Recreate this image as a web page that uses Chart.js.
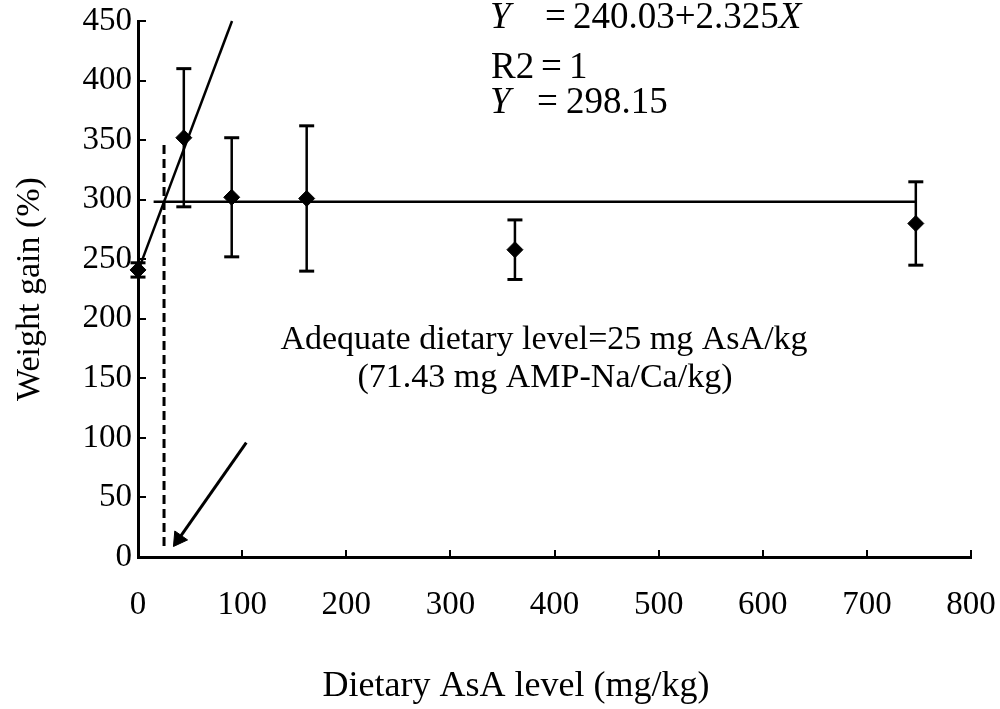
<!DOCTYPE html>
<html>
<head>
<meta charset="utf-8">
<script src="https://cdn.jsdelivr.net/npm/chart.js@4.4.1/dist/chart.umd.min.js"></script>
<style>
  html, body { margin: 0; padding: 0; background: #fff; }
  #wrap { width: 1000px; height: 709px; }
</style>
</head>
<body>
<div id="wrap"><canvas id="c" width="1000" height="709"></canvas></div>
<script>
// Dietary ascorbic acid level (mg/kg) and weight gain (%) with SD
const asaLevels    = [0, 44, 90, 162, 362, 747];
const weightGain   = [241, 352, 302, 301, 258, 280];
const weightGainSD = [6, 58, 50, 61, 25, 35];

// Axis ticks
const xTickValues = [0, 100, 200, 300, 400, 500, 600, 700, 800];
const yTickValues = [0, 50, 100, 150, 200, 250, 300, 350, 400, 450];

// Broken-line regression
const riseIntercept = 240.03;
const riseSlope = 2.325;
const plateauValue = 298.15;
const riseX = [0, 90.3];
const plateauX = [15, 747];

// Adequate level marker and pointer arrow
const adequateLevel = 25;
const dropLineY = [346, 8];
const arrowX = [104, 39];
const arrowY = [96, 15];

const serif = '"Liberation Serif", "Times New Roman", Times, serif';

const errorBarPoints = [];
asaLevels.forEach((x, i) => {
  errorBarPoints.push({ x, y: weightGain[i] - weightGainSD[i] });
  errorBarPoints.push({ x, y: weightGain[i] + weightGainSD[i] });
  errorBarPoints.push({ x, y: null });
});

const meanPoints = asaLevels.map((x, i) => ({ x, y: weightGain[i] }));
const risePoints = riseX.map(x => ({ x, y: riseIntercept + riseSlope * x }));
const plateauPoints = plateauX.map(x => ({ x, y: plateauValue }));
const dropPoints = dropLineY.map(y => ({ x: adequateLevel, y }));
const arrowPoints = arrowX.map((x, i) => ({ x, y: arrowY[i] }));

// Equations, annotation and x-axis title
const textNotes = {
  id: 'textNotes',
  afterDraw(chart) {
    const ctx = chart.ctx;
    ctx.save();
    ctx.fillStyle = '#000';
    ctx.textBaseline = 'middle';
    ctx.textAlign = 'left';
    const f = (size, italic) => (italic ? 'italic ' : '') + size + 'px ' + serif;

    // Y = 240.03+2.325X
    ctx.font = f(37, true);
    ctx.fillText('Y', 490, 18);
    ctx.font = f(37, false);
    ctx.fillText('=', 545, 18);
    const eq = riseIntercept.toFixed(2) + '+' + riseSlope.toFixed(3);
    ctx.fillText(eq, 573, 18);
    const w = ctx.measureText(eq).width;
    ctx.font = f(37, true);
    ctx.fillText('X', 573 + w, 18);

    // R2 = 1
    ctx.font = f(37, false);
    ctx.fillText('R2', 491, 68);
    ctx.fillText('=', 541, 68);
    ctx.fillText('1', 569, 68);

    // Y = 298.15
    ctx.font = f(37, true);
    ctx.fillText('Y', 490, 103);
    ctx.font = f(37, false);
    ctx.fillText('=', 537, 103);
    ctx.fillText(plateauValue.toFixed(2), 566, 103);

    // Annotation
    ctx.textAlign = 'center';
    ctx.font = f(34, false);
    ctx.fillText('Adequate dietary level=' + adequateLevel + ' mg AsA/kg', 544, 340);
    ctx.fillText('(71.43 mg AMP-Na/Ca/kg)', 545, 378);

    // X-axis title
    ctx.font = f(36, false);
    ctx.fillText('Dietary AsA level (mg/kg)', 516, 687);
    ctx.restore();
  }
};

new Chart(document.getElementById('c'), {
  type: 'scatter',
  data: {
    datasets: [
      {
        type: 'line',
        data: errorBarPoints,
        showLine: true,
        spanGaps: false,
        borderColor: '#000',
        borderWidth: 2.5,
        pointStyle: 'line',
        pointRadius: 7.5,
        pointBorderWidth: 3,
        pointBorderColor: '#000',
        clip: false
      },
      {
        type: 'line',
        data: risePoints,
        borderColor: '#000',
        borderWidth: 2.5,
        pointRadius: 0,
        clip: false
      },
      {
        type: 'line',
        data: plateauPoints,
        borderColor: '#000',
        borderWidth: 2.5,
        pointRadius: 0,
        clip: false
      },
      {
        type: 'line',
        data: dropPoints,
        borderColor: '#000',
        borderWidth: 3,
        borderDash: [9, 5],
        pointRadius: 0,
        clip: false
      },
      {
        type: 'line',
        data: arrowPoints,
        borderColor: '#000',
        borderWidth: 3,
        pointStyle: 'triangle',
        pointRadius: [0, 9],
        pointRotation: 215,
        pointBackgroundColor: '#000',
        pointBorderColor: '#000',
        pointBorderWidth: 1,
        clip: false
      },
      {
        data: meanPoints,
        pointStyle: 'rectRot',
        pointRadius: 8,
        backgroundColor: '#000',
        borderColor: '#000',
        pointBorderWidth: 1,
        clip: false
      }
    ]
  },
  options: {
    responsive: false,
    animation: false,
    devicePixelRatio: 1,
    layout: { padding: { left: 0, right: 29, top: 21, bottom: 0 } },
    plugins: {
      legend: { display: false },
      tooltip: { enabled: false }
    },
    scales: {
      x: {
        type: 'linear',
        min: 0,
        max: 800,
        afterBuildTicks(scale) { scale.ticks = xTickValues.map(v => ({ value: v })); },
        ticks: {
          color: '#000',
          font: { family: serif, size: 33 },
          padding: 36,
          maxRotation: 0,
          autoSkip: false
        },
        grid: { drawOnChartArea: false, drawTicks: true, tickLength: -7, color: '#000', lineWidth: 2 },
        border: { display: true, color: '#000', width: 3 },
        title: { display: false },
        afterFit(scale) {
          scale.height = 152;
          scale.paddingLeft = 0;
          scale.paddingRight = 0;
        }
      },
      y: {
        type: 'linear',
        min: 0,
        max: 450,
        afterBuildTicks(scale) { scale.ticks = yTickValues.map(v => ({ value: v })); },
        ticks: {
          color: '#000',
          font: { family: serif, size: 33 },
          padding: 14,
          autoSkip: false
        },
        grid: { drawOnChartArea: false, drawTicks: true, tickLength: -8, color: '#000', lineWidth: 2 },
        border: { display: true, color: '#000', width: 3 },
        title: {
          display: true,
          text: 'Weight gain (%)',
          color: '#000',
          font: { family: serif, size: 34 },
          padding: { top: 10, bottom: 0 }
        },
        afterFit(scale) {
          scale.width = 138;
          scale.paddingTop = 0;
          scale.paddingBottom = 0;
        }
      }
    }
  },
  plugins: [textNotes]
});
</script>
</body>
</html>
